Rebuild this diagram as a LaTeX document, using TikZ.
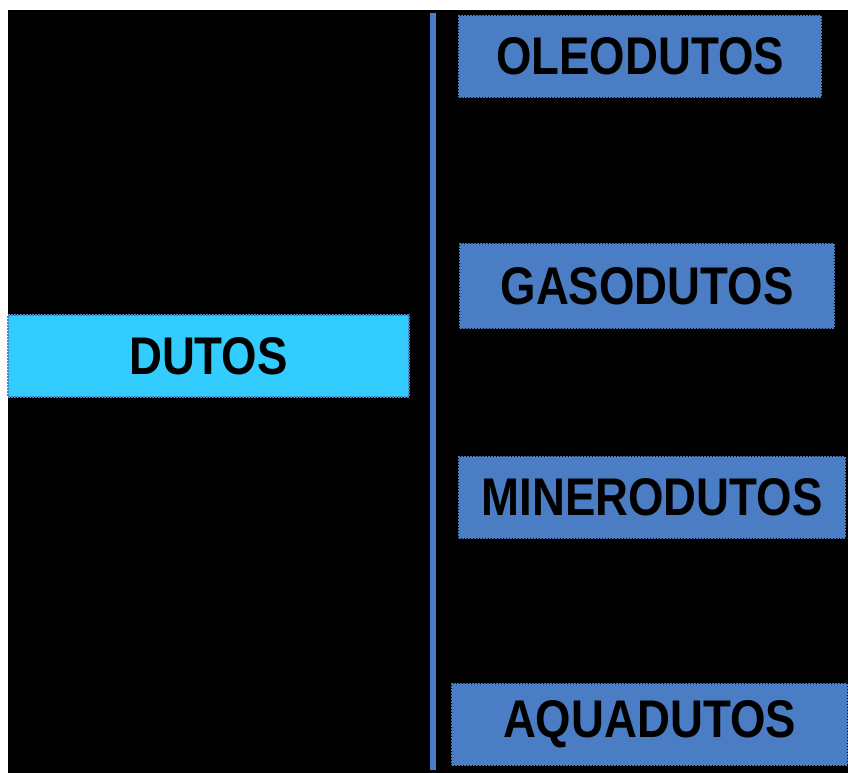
\documentclass[tikz,border=0pt]{standalone}
\usepackage{fontspec}
\newfontfamily\boxfont[FakeStretch=0.86]{Liberation Sans}
\definecolor{boxblue}{RGB}{74,125,196}
\definecolor{boxcyan}{RGB}{51,204,255}
\begin{document}
\begin{tikzpicture}[x=1pt,y=-1pt,
  box/.style={rectangle, inner sep=0pt, fill=boxblue, draw=boxblue, densely dotted, line width=2pt,
    font=\boxfont\bfseries\fontsize{53}{60}\selectfont, text=black},
  mainbox/.style={box, fill=boxcyan, draw=boxblue}]
\useasboundingbox (0,0) rectangle (848,773);
\fill[white] (0,0) rectangle (848,773);
\fill[black] (8,10) rectangle (848,773);
\node[mainbox, minimum width=401pt, minimum height=82pt] (dutos) at (208.5,356){DUTOS};
\node[box, minimum width=362pt, minimum height=81pt] (oleo) at (640,56.5){OLEODUTOS};
\node[box, minimum width=374pt, minimum height=84pt] (gaso) at (647,286){GASODUTOS};
\node[box, minimum width=386pt, minimum height=81pt] (minero) at (652,497.5){MINERODUTOS};
\node[box, minimum width=395pt, minimum height=81pt] (aqua) at (649.5,724.5){AQUADUTOS};
\coordinate (topbar) at (432.5,13);
\coordinate (botbar) at (432.5,770);
\draw[boxblue, line width=6pt](topbar) -- (botbar);

\end{tikzpicture}
\end{document}
